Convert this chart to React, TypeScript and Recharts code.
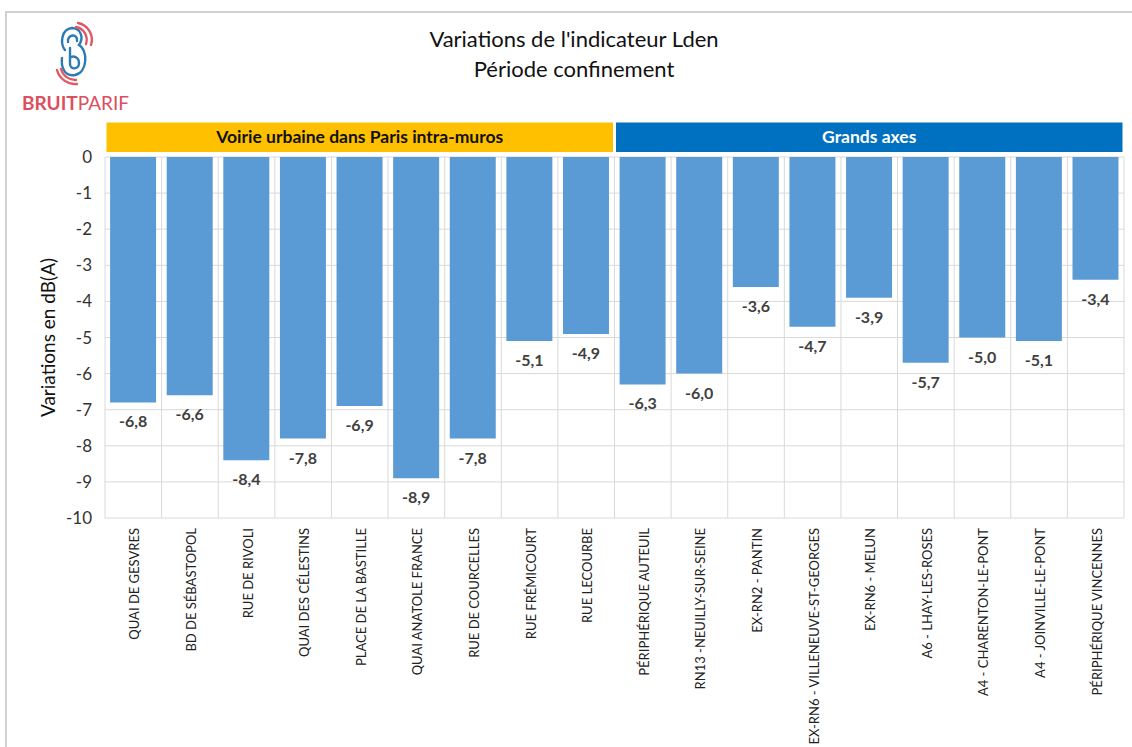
import React from "react";
import {
  BarChart,
  Bar,
  XAxis,
  YAxis,
  CartesianGrid,
  ReferenceArea,
  LabelList,
} from "recharts";

// Sites, in the order of the picture
const sites = [
  "QUAI DE GESVRES",
  "BD DE SÉBASTOPOL",
  "RUE DE RIVOLI",
  "QUAI DES CÉLESTINS",
  "PLACE DE LA BASTILLE",
  "QUAI ANATOLE FRANCE",
  "RUE DE COURCELLES",
  "RUE FRÉMICOURT",
  "RUE LECOURBE",
  "PÉRIPHÉRIQUE AUTEUIL",
  "RN13 -NEUILLY-SUR-SEINE",
  "EX-RN2 - PANTIN",
  "EX-RN6 - VILLENEUVE-ST-GEORGES",
  "EX-RN6 - MELUN",
  "A6 - LHAY-LES-ROSES",
  "A4 -  CHARENTON-LE-PONT",
  "A4 - JOINVILLE-LE-PONT",
  "PÉRIPHÉRIQUE VINCENNES",
];

// Variation Lden in dB(A)
const variations = [
  -6.8, -6.6, -8.4, -7.8, -6.9, -8.9, -7.8, -5.1, -4.9,
  -6.3, -6.0, -3.6, -4.7, -3.9, -5.7, -5.0, -5.1, -3.4,
];

const yTicks = [0, -1, -2, -3, -4, -5, -6, -7, -8, -9, -10];

const groupNames = ["Voirie urbaine dans Paris intra-muros", "Grands axes"];
const groupFirst = ["QUAI DE GESVRES", "PÉRIPHÉRIQUE AUTEUIL"];
const groupLast = ["RUE LECOURBE", "PÉRIPHÉRIQUE VINCENNES"];

const data = sites.map((name, i) => ({ name, value: variations[i] }));

const FONT = "Lato, 'Open Sans', sans-serif";

const fmt = (v: number) => v.toFixed(1).replace(".", ",");

const SiteTick = (props: any) => {
  const { x, y, payload } = props;
  return (
    <g transform={`translate(${x},${y + 2})`}>
      <text
        x={0}
        y={0}
        dy={6}
        transform="rotate(-90)"
        textAnchor="end"
        fontSize={13}
        fontFamily={FONT}
        fill="#222"
      >
        {payload.value}
      </text>
    </g>
  );
};

const ValueLabel = (props: any) => {
  const x = Number(props.x);
  const y = Number(props.y);
  const w = Number(props.width);
  const h = Number(props.height);
  const bottom = Math.max(y, y + h);
  return (
    <text
      x={x + w / 2}
      y={bottom + 25}
      textAnchor="middle"
      fontSize={16}
      fontWeight="bold"
      fontFamily={FONT}
      fill="#404040"
    >
      {fmt(Number(props.value))}
    </text>
  );
};

const Logo = () => (
  <svg width={140} height={120} style={{ position: "absolute", left: 0, top: 0 }}>
    <g fill="none" strokeWidth={2.4} strokeLinecap="round">
      <path
        d="M65 50 C60 44 61 29 72 28 C81 28 84 38 79 45 C88 50 88 72 75 75 C64 77 61 66 62 58"
        stroke="#2B7BB5"
      />
      <path d="M70 48 L70 64 C70 70 79 70 79 63 C79 57 73 55 70 58" stroke="#2B7BB5" />
      <path d="M68 42 C67 34 78 33 77 41" stroke="#2B7BB5" />
      <path d="M76 27 A13 13 0 0 1 86 44" stroke="#E05A66" />
      <path d="M78 23 A17 17 0 0 1 91 45" stroke="#E05A66" />
      <path d="M61 69 A15 15 0 0 0 76 80" stroke="#E05A66" />
      <path d="M57 70 A19 19 0 0 0 77 84" stroke="#E05A66" />
    </g>
    <text x={22} y={110} fontFamily={FONT} fontSize={19} fill="#DB4F5E">
      <tspan fontWeight="bold">BRUIT</tspan>
      <tspan>PARIF</tspan>
    </text>
  </svg>
);

export default function App() {
  return (
    <div style={{ position: "absolute", left: 0, top: 0, width: 1132, height: 747, overflow: "hidden", background: "#fff" }}>
      <div
        style={{
          position: "absolute",
          left: 5,
          top: 11,
          width: 1200,
          height: 800,
          borderTop: "2px solid #D0D0D0",
          borderLeft: "2px solid #D0D0D0",
        }}
      />
      <Logo />
      <div
        style={{
          position: "absolute",
          left: 0,
          top: 24,
          width: 1148,
          textAlign: "center",
          fontFamily: FONT,
          fontSize: 22,
          lineHeight: "30px",
          color: "#111",
        }}
      >
        Variations de l'indicateur Lden
        <br />
        Période confinement
      </div>
      <BarChart
        width={1132}
        height={747}
        data={data}
        margin={{ top: 157, right: 8, left: 0, bottom: 0 }}
        barCategoryGap="9%"
        style={{ position: "absolute", left: 0, top: 0 }}
      >
        <CartesianGrid
          stroke="#D9D9D9"
          verticalCoordinatesGenerator={({ offset }: any) =>
            sites.map((_, i) => offset.left + (i * offset.width) / sites.length).concat(offset.left + offset.width)
          }
        />
        <XAxis
          dataKey="name"
          interval={0}
          axisLine={false}
          tickLine={false}
          height={229}
          tick={<SiteTick />}
        />
        <YAxis
          width={105}
          domain={[-10, 0]}
          ticks={yTicks}
          axisLine={false}
          tickLine={false}
          tickMargin={7}
          tick={{ fontSize: 17, fill: "#333", fontFamily: FONT }}
          label={{
            value: "Variations en dB(A)",
            angle: -90,
            position: "insideLeft",
            offset: 48,
            style: { textAnchor: "middle", fontSize: 19, fill: "#111", fontFamily: FONT },
          }}
        />
        {groupNames.map((g, i) => (
          <ReferenceArea
            key={g}
            x1={groupFirst[i]}
            x2={groupLast[i]}
            y1={0.1}
            y2={1.0}
            ifOverflow="visible"
            fill={i === 0 ? "#FFC000" : "#0070C0"}
            fillOpacity={1}
            stroke="#fff"
            strokeWidth={3}
            label={{
              value: g,
              position: "center",
              fill: i === 0 ? "#111" : "#fff",
              fontSize: 17.5,
              fontWeight: "bold",
              fontFamily: FONT,
            }}
          />
        ))}
        <Bar dataKey="value" fill="#5B9BD5" isAnimationActive={false}>
          <LabelList dataKey="value" content={<ValueLabel />} />
        </Bar>
      </BarChart>
    </div>
  );
}
